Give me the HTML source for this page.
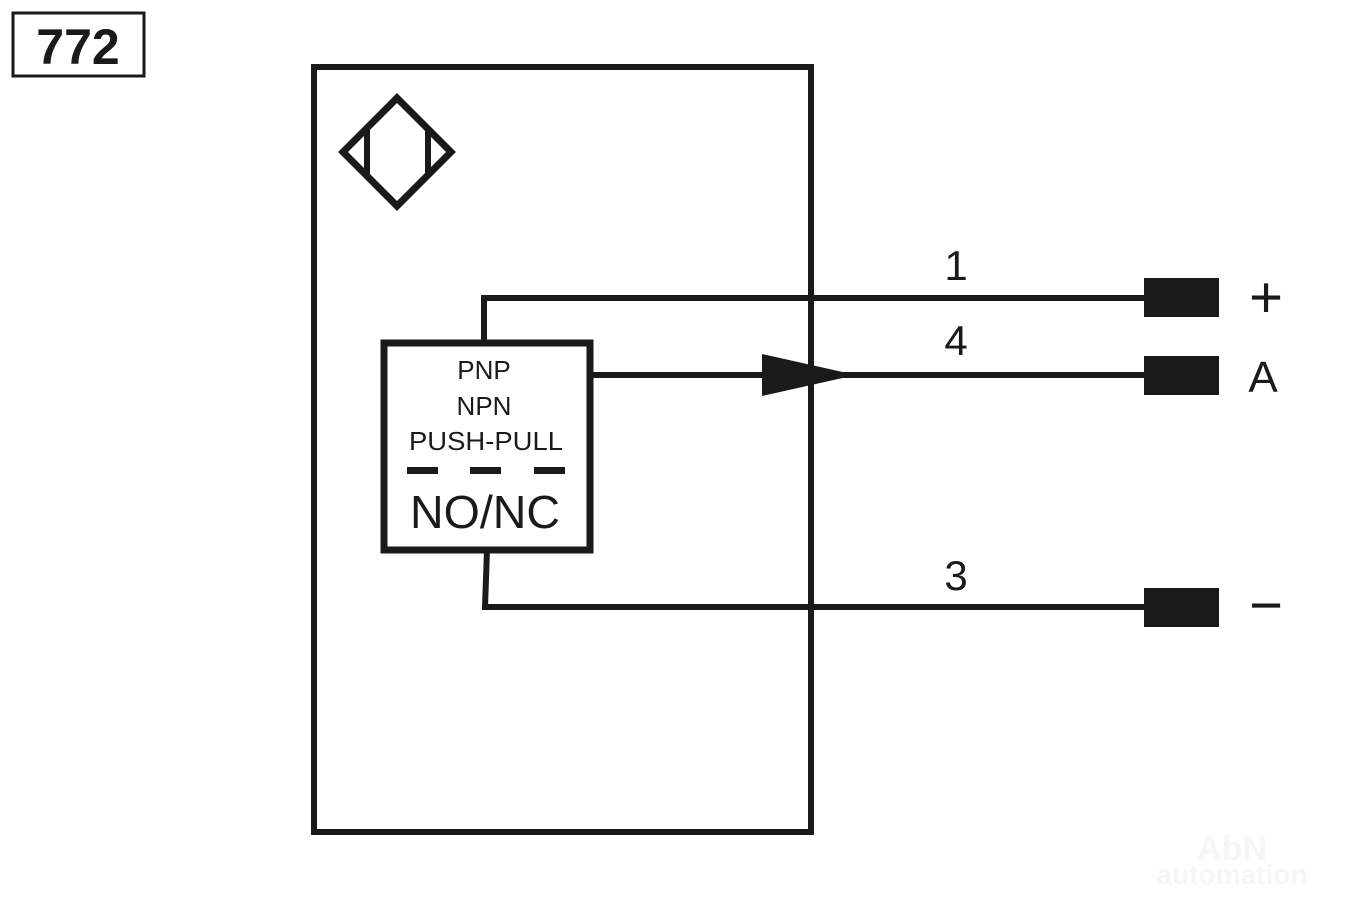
<!DOCTYPE html>
<html><head><style>body{margin:0;background:#fff}svg{display:block}text{font-family:"Liberation Sans",sans-serif;fill:#1a1a1a}</style></head>
<body>
<svg width="1350" height="900" xmlns="http://www.w3.org/2000/svg">
<g stroke="#1a1a1a" fill="none" stroke-width="6">
<rect x="13" y="13" width="131" height="63" stroke-width="3"/>
<rect x="314" y="67" width="497" height="765"/>
<polygon points="397,98 451,152 397,206 343,152" stroke-width="7"/>
<line x1="367" y1="128" x2="367" y2="176"/>
<line x1="428" y1="128" x2="428" y2="176"/>
<rect x="384" y="343" width="206" height="207" stroke-width="7"/>
<polyline points="484,343 484,298 1146,298"/>
<line x1="590" y1="375" x2="1146" y2="375"/>
<polyline points="487,550 485,607 1146,607"/>
</g>
<polygon points="762,354 856,375 762,396" fill="#1a1a1a"/>
<g fill="#1a1a1a">
<rect x="1144" y="278" width="75" height="39"/>
<rect x="1144" y="356" width="75" height="39"/>
<rect x="1144" y="588" width="75" height="39"/>
<rect x="407" y="467" width="31" height="7"/>
<rect x="470" y="467" width="31" height="7"/>
<rect x="534" y="467" width="31" height="7"/>
</g>
<text x="78" y="64" font-size="50" font-weight="bold" text-anchor="middle">772</text>
<text x="484" y="379" font-size="26" text-anchor="middle">PNP</text>
<text x="484" y="415" font-size="26" text-anchor="middle">NPN</text>
<text x="486" y="450" font-size="26" text-anchor="middle" textLength="154" lengthAdjust="spacingAndGlyphs">PUSH-PULL</text>
<text x="485" y="528" font-size="46" text-anchor="middle" textLength="150" lengthAdjust="spacingAndGlyphs">NO/NC</text>
<text x="956" y="280" font-size="42" text-anchor="middle">1</text>
<text x="956" y="355" font-size="42" text-anchor="middle">4</text>
<text x="956" y="590" font-size="42" text-anchor="middle">3</text>
<text x="1266" y="317" font-size="58" text-anchor="middle">+</text>
<text x="1263" y="392" font-size="44" text-anchor="middle">A</text>
<text x="1266" y="625" font-size="58" text-anchor="middle">−</text>
<text x="1232" y="860" font-size="34" font-weight="bold" text-anchor="middle" style="fill:#f6f6f6">AbN</text>
<text x="1232" y="884" font-size="28" font-weight="bold" text-anchor="middle" style="fill:#f6f6f6">automation</text>
</svg>
</body></html>
